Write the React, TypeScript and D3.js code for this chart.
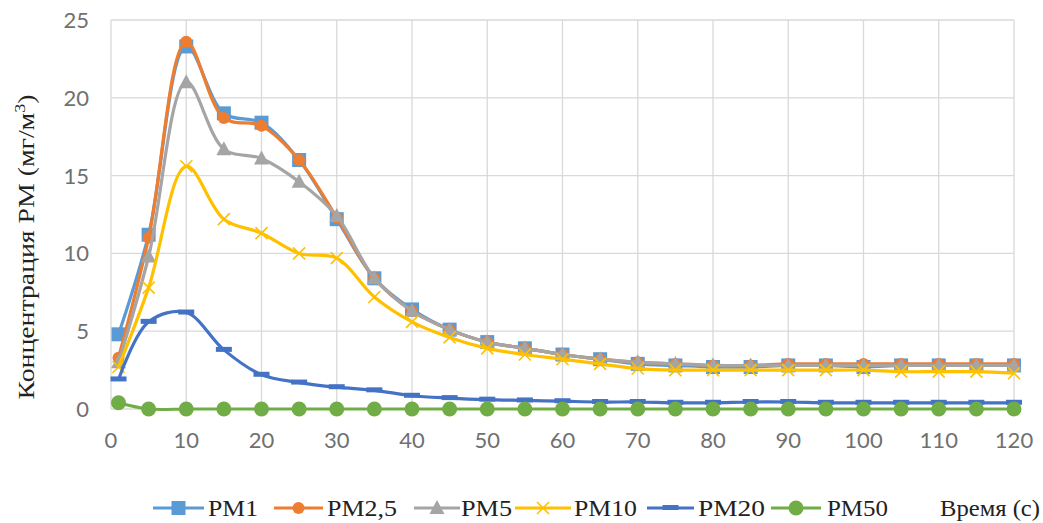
import React from "react";
import * as d3 from "d3";

// Measurement times, seconds
const times = [1, 5, 10, 15, 20, 25, 30, 35, 40, 45, 50, 55, 60, 65, 70, 75, 80, 85, 90, 95, 100, 105, 110, 115, 120];

// Concentrations, mg/m3
const pm1 = [4.8, 11.2, 23.3, 19.0, 18.4, 16.0, 12.2, 8.4, 6.4, 5.1, 4.3, 3.9, 3.5, 3.2, 2.9, 2.8, 2.7, 2.7, 2.8, 2.8, 2.7, 2.8, 2.8, 2.8, 2.8];
const pm25 = [3.3, 11.0, 23.6, 18.7, 18.2, 16.0, 12.3, 8.4, 6.3, 5.1, 4.3, 3.9, 3.5, 3.2, 3.0, 2.9, 2.8, 2.8, 2.9, 2.9, 2.9, 2.9, 2.9, 2.9, 2.9];
const pm5 = [3.0, 9.8, 21.0, 16.7, 16.1, 14.6, 12.4, 8.4, 6.3, 5.1, 4.3, 3.9, 3.5, 3.2, 3.0, 2.9, 2.8, 2.8, 2.8, 2.8, 2.8, 2.8, 2.8, 2.8, 2.8];
const pm10 = [2.7, 7.8, 15.6, 12.2, 11.3, 10.0, 9.7, 7.2, 5.6, 4.6, 3.9, 3.5, 3.2, 2.9, 2.6, 2.5, 2.5, 2.5, 2.5, 2.5, 2.5, 2.4, 2.4, 2.4, 2.3];
const pm20 = [1.9, 5.6, 6.2, 3.8, 2.2, 1.7, 1.4, 1.2, 0.85, 0.7, 0.6, 0.55, 0.5, 0.45, 0.45, 0.4, 0.4, 0.45, 0.45, 0.4, 0.4, 0.4, 0.4, 0.4, 0.4];
const pm50 = [0.4, 0, 0, 0, 0, 0, 0, 0, 0, 0, 0, 0, 0, 0, 0, 0, 0, 0, 0, 0, 0, 0, 0, 0, 0];

const xTicks = [0, 10, 20, 30, 40, 50, 60, 70, 80, 90, 100, 110, 120];
const yTicks = [0, 5, 10, 15, 20, 25];

type Marker = "square" | "circle" | "triangle" | "x" | "dash" | "bigcircle";

const series: { name: string; values: number[]; color: string; marker: Marker }[] = [
  { name: "PM1", values: pm1, color: "#5B9BD5", marker: "square" },
  { name: "PM2,5", values: pm25, color: "#ED7D31", marker: "circle" },
  { name: "PM5", values: pm5, color: "#A5A5A5", marker: "triangle" },
  { name: "PM10", values: pm10, color: "#FFC000", marker: "x" },
  { name: "PM20", values: pm20, color: "#4472C4", marker: "dash" },
  { name: "PM50", values: pm50, color: "#70AD47", marker: "bigcircle" },
];

const W = 1043;
const H = 523;
const left = 111;
const right = 1014;
const top = 20;
const bottom = 409;

const SERIF = "'Liberation Serif', 'Times New Roman', serif";
const SANS = "Lato, 'Open Sans', sans-serif";

function MarkerShape({ kind, x, y, color }: { kind: Marker; x: number; y: number; color: string }) {
  switch (kind) {
    case "square":
      return <rect x={x - 7} y={y - 7} width={14} height={14} fill={color} />;
    case "circle":
      return <circle cx={x} cy={y} r={6} fill={color} />;
    case "triangle":
      return <path d={`M${x},${y - 8}L${x + 7.5},${y + 6}L${x - 7.5},${y + 6}Z`} fill={color} />;
    case "x":
      return (
        <path
          d={`M${x - 6},${y - 6}L${x + 6},${y + 6}M${x + 6},${y - 6}L${x - 6},${y + 6}`}
          stroke={color}
          strokeWidth={1.6}
          fill="none"
        />
      );
    case "dash":
      return <rect x={x - 8} y={y - 3} width={16} height={5} fill={color} />;
    case "bigcircle":
      return <circle cx={x} cy={y} r={7.5} fill={color} />;
  }
}

export default function App() {
  const x = d3.scaleLinear().domain([0, 120]).range([left, right]);
  const y = d3.scaleLinear().domain([0, 25]).range([bottom, top]);

  const line = d3
    .line<[number, number]>()
    .x((d) => x(d[0]))
    .y((d) => y(d[1]))
    .curve(d3.curveCatmullRom.alpha(0.5));

  // legend layout: line start/end, text start, text width
  const legend = [
    { x0: 153, x1: 204, tx: 208, tw: 50 },
    { x0: 274, x1: 323, tx: 327, tw: 70 },
    { x0: 414, x1: 460, tx: 461, tw: 51 },
    { x0: 515, x1: 571, tx: 574, tw: 63 },
    { x0: 647, x1: 694, tx: 698, tw: 67 },
    { x0: 771, x1: 821, tx: 827, tw: 61 },
  ];
  const legendY = 508;

  return (
    <svg width={W} height={H} style={{ position: "absolute", left: 0, top: 0, background: "#fff" }}>
      <rect x={0} y={0} width={W} height={H} fill="#fff" />
      {/* gridlines */}
      {yTicks.map((t) => (
        <line key={"gy" + t} x1={left} x2={right} y1={y(t)} y2={y(t)} stroke="#D9D9D9" strokeWidth={1.3} />
      ))}
      {xTicks.map((t) => (
        <line key={"gx" + t} x1={x(t)} x2={x(t)} y1={top} y2={bottom} stroke="#D9D9D9" strokeWidth={1.3} />
      ))}
      {/* tick labels */}
      {yTicks.map((t) => (
        <text
          key={"ly" + t}
          x={89}
          y={y(t)}
          dy="0.36em"
          textAnchor="end"
          fontFamily={SANS}
          fontSize={22}
          fill="#707070"
        >
          {t}
        </text>
      ))}
      {xTicks.map((t) => (
        <text
          key={"lx" + t}
          x={x(t)}
          y={440}
          dy="0.36em"
          textAnchor="middle"
          fontFamily={SANS}
          fontSize={22}
          fill="#707070"
        >
          {t}
        </text>
      ))}
      {/* axis title */}
      <text
        transform={`translate(26,247) rotate(-90)`}
        textAnchor="middle"
        dy="0.35em"
        fontFamily={SERIF}
        fontSize={23}
        fill="#222"
        textLength={305}
        lengthAdjust="spacingAndGlyphs"
      >
        Концентрация PM (мг/м<tspan dy="-9" fontSize={15}>3</tspan>
        <tspan dy="9">)</tspan>
      </text>
      {/* series */}
      {series.map((s) => {
        const pts = times.map((t, i) => [t, s.values[i]] as [number, number]);
        return (
          <g key={s.name}>
            <path d={line(pts) ?? ""} fill="none" stroke={s.color} strokeWidth={3.2} strokeLinejoin="round" />
            {pts.map((p, i) => (
              <MarkerShape key={i} kind={s.marker} x={x(p[0])} y={y(p[1])} color={s.color} />
            ))}
          </g>
        );
      })}
      {/* legend */}
      {series.map((s, i) => {
        const l = legend[i];
        return (
          <g key={"lg" + s.name}>
            <line x1={l.x0} x2={l.x1} y1={legendY} y2={legendY} stroke={s.color} strokeWidth={3} />
            <MarkerShape kind={s.marker} x={(l.x0 + l.x1) / 2} y={legendY} color={s.color} />
            <text
              x={l.tx}
              y={legendY}
              dy="0.33em"
              fontFamily={SERIF}
              fontSize={23}
              fill="#222"
              textLength={l.tw}
              lengthAdjust="spacingAndGlyphs"
            >
              {s.name}
            </text>
          </g>
        );
      })}
      <text
        x={940}
        y={legendY}
        dy="0.33em"
        fontFamily={SERIF}
        fontSize={23}
        fill="#222"
        textLength={100}
        lengthAdjust="spacingAndGlyphs"
      >
        Время (с)
      </text>
    </svg>
  );
}
